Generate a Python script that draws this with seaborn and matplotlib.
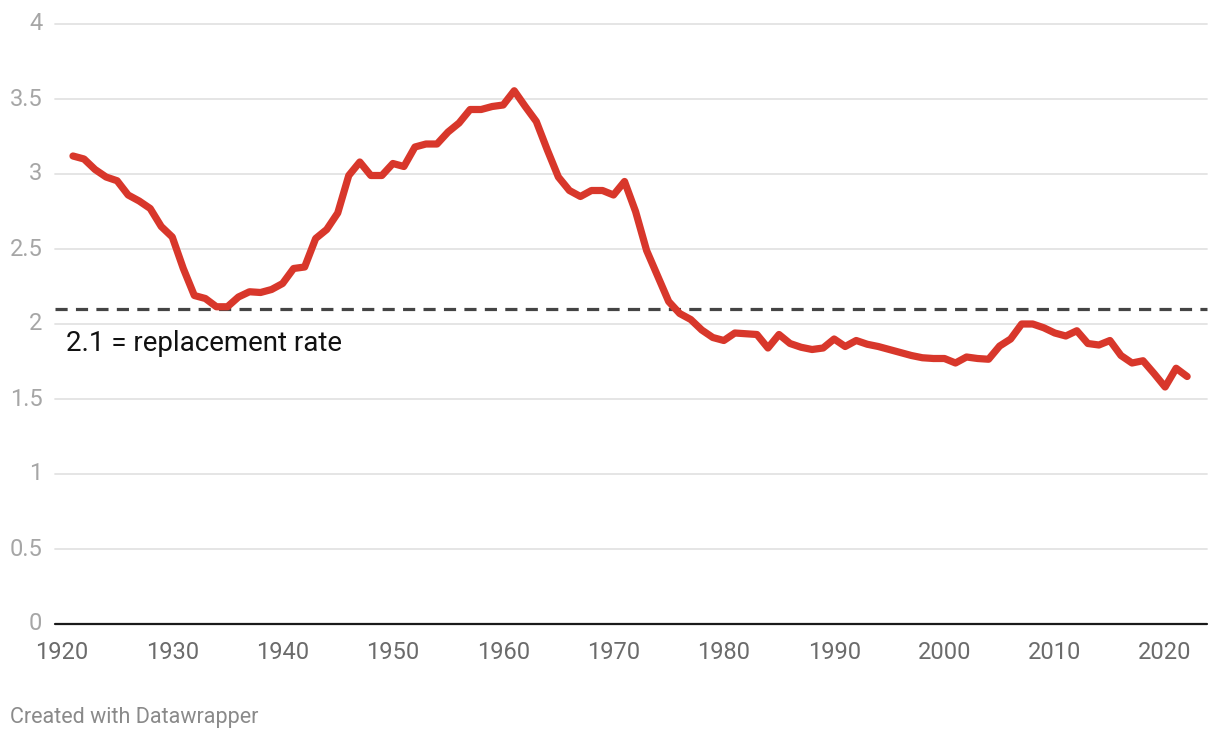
import matplotlib
matplotlib.use("Agg")
import matplotlib.pyplot as plt
import seaborn as sns
import pandas as pd

years = list(range(1921, 2023))
fertility = [
    3.12, 3.10, 3.03, 2.98, 2.955, 2.86, 2.82, 2.77, 2.65, 2.58,   # 1921-1930
    2.37, 2.19, 2.17, 2.115, 2.115, 2.18, 2.215, 2.21, 2.23, 2.27,  # 1931-1940
    2.37, 2.38, 2.57, 2.63, 2.74, 2.99, 3.08, 2.99, 2.99, 3.07,     # 1941-1950
    3.05, 3.18, 3.20, 3.20, 3.28, 3.34, 3.43, 3.43, 3.45, 3.46,     # 1951-1960
    3.555, 3.45, 3.35, 3.16, 2.98, 2.89, 2.85, 2.89, 2.89, 2.86,    # 1961-1970
    2.95, 2.75, 2.49, 2.32, 2.15, 2.07, 2.03, 1.96, 1.91, 1.89,     # 1971-1980
    1.94, 1.935, 1.93, 1.84, 1.93, 1.87, 1.845, 1.83, 1.84, 1.90,   # 1981-1990
    1.85, 1.89, 1.865, 1.85, 1.83, 1.81, 1.79, 1.775, 1.77, 1.77,   # 1991-2000
    1.74, 1.78, 1.77, 1.765, 1.853, 1.90, 2.00, 2.00, 1.975, 1.94,  # 2001-2010
    1.92, 1.955, 1.87, 1.86, 1.89, 1.79, 1.74, 1.755, 1.67, 1.58,   # 2011-2020
    1.705, 1.65,                                                     # 2021-2022
]
replacement_rate = 2.1
replacement_label = "2.1 = replacement rate"
y_ticks = [0, 0.5, 1, 1.5, 2, 2.5, 3, 3.5, 4]
y_tick_labels = ["0", "0.5", "1", "1.5", "2", "2.5", "3", "3.5", "4"]
x_ticks = list(range(1920, 2030, 10))
footer = "Created with Datawrapper"

df = pd.DataFrame({"year": years, "tfr": fertility})

sns.set_theme(style="white")
plt.rcParams["font.family"] = ["Roboto", "DejaVu Sans"]

fig = plt.figure(figsize=(12.2, 7.4), dpi=100)
ax = fig.add_axes([55 / 1220, 1 - 624 / 740, (1207 - 55) / 1220, 600 / 740])

for yt in y_ticks[1:]:
    ax.axhline(yt, color="#e3e3e3", lw=1.3, zorder=0)
ax.axhline(0, color="#1a1a1a", lw=1.6, zorder=1)

ax.axhline(replacement_rate, color="#444444", lw=2.3,
           linestyle=(0, (3.8, 2.6)), zorder=2)

sns.lineplot(data=df, x="year", y="tfr", ax=ax, color="#d8372b", lw=5.2,
             zorder=3, solid_joinstyle="round", solid_capstyle="round")
for l in ax.lines:
    l.set_clip_on(False)

ax.text(1919.37 + 11 / 11.03, 1.873, replacement_label, fontsize=20,
        color="#111111", va="center", ha="left")

ax.set_xlim(1919.37, 2023.8)
ax.set_ylim(0, 4)
ax.set_yticks(y_ticks)
ax.set_yticklabels(y_tick_labels)
ax.set_xticks(x_ticks)
ax.set_xticklabels([str(x) for x in x_ticks])
ax.set_xlabel("")
ax.set_ylabel("")
ax.tick_params(axis="y", length=0, pad=9, labelsize=17, labelcolor="#a6a6a6")
ax.tick_params(axis="x", length=0, pad=12, labelsize=17, labelcolor="#6b6b6b")
for lab in ax.get_yticklabels():
    lab.set_verticalalignment("center")
for s in ax.spines.values():
    s.set_visible(False)

fig.text(10 / 1220, 1 - 717 / 740, footer, fontsize=15.5, color="#8a8a8a",
         ha="left", va="center")

fig.savefig("out.png", dpi=100)
